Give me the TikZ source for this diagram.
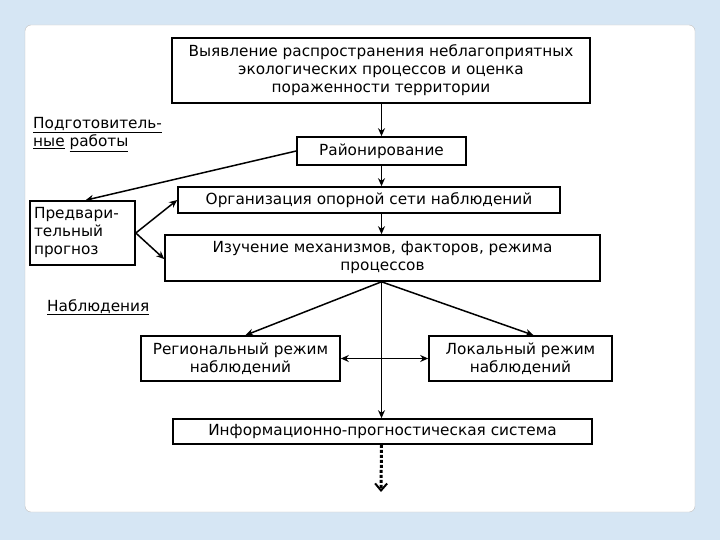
\documentclass[tikz,border=0pt]{standalone}
\usepackage{fontspec}
\setmainfont{DejaVu Sans}
\usetikzlibrary{arrows.meta}
\definecolor{bgblue}{HTML}{D6E6F4}
\begin{document}
\begin{tikzpicture}[x=1pt,y=-1pt,
  box/.style={draw,line width=1.6pt,inner sep=0pt,align=center,font=\fontsize{15.3}{18}\selectfont},
  arr/.style={line width=1.5pt,-{Stealth[length=8pt,width=7pt]}},
  lab/.style={font=\fontsize{15.3}{18}\selectfont,align=left,anchor=north west,inner sep=0pt}]
\fill[bgblue] (0,0) rectangle (720,540);
\useasboundingbox (0,0) rectangle (720,540);
\filldraw[fill=white,draw=black!25,rounded corners=6pt] (25,25) rectangle (695,512);
\node[box,minimum width=418pt,minimum height=65pt] (top) at (381,70.5) {Выявление распространения неблагоприятных\\экологических процессов и оценка\\пораженности территории};
\node[box,minimum width=169pt,minimum height=28pt] (rai) at (381.5,151) {Районирование};
\node[box,minimum width=382pt,minimum height=26pt] (org) at (369,200) {Организация опорной сети наблюдений};
\node[box,minimum width=435pt,minimum height=46pt] (izu) at (382.5,258) {Изучение механизмов, факторов, режима\\процессов};
\node[box,minimum width=105pt,minimum height=64pt,align=left,text width=97pt] (pre) at (82.5,233) {Предвари-\\тельный\\прогноз};
\node[box,minimum width=199pt,minimum height=45pt] (reg) at (240.5,358.5) {Региональный режим\\наблюдений};
\node[box,minimum width=183pt,minimum height=45pt] (lok) at (520.5,358.5) {Локальный режим\\наблюдений};
\node[box,minimum width=419pt,minimum height=25pt] (inf) at (382.5,431.5) {Информационно-прогностическая система};
\node[lab] (podg) at (33,117) {\underline{Подготовитель-}\\\underline{ные} \underline{работы}};
\node[lab] (nab) at (47,299) {\underline{Наблюдения}};
\coordinate (end) at (381,492);
\draw[arr] (top.south -| rai.north) -- (rai.north);
\draw[arr] (rai.south) -- (rai.south |- org.north);
\draw[arr] (rai.south |- org.south) -- (rai.south |- izu.north);
\draw[arr] (rai.west) -- ([xshift=3pt]pre.north);
\draw[arr] (pre.east) -- (org.west);
\draw[arr] (pre.east) -- ([yshift=3pt]izu.south west |- 0,262);
\draw[arr] (rai.south |- izu.south) -- ([xshift=5pt]reg.north);
\draw[arr] (rai.south |- izu.south) -- ([xshift=13pt]lok.north);
\draw[arr] (rai.south |- izu.south) -- (rai.south |- inf.north);
\draw[line width=1.5pt,{Stealth[length=8pt,width=7pt]}-{Stealth[length=8pt,width=7pt]}] (reg.east) -- (lok.west);
\draw[line width=3pt,dash pattern=on 3pt off 2pt,-{Straight Barb[length=7pt,width=12pt,line width=2pt]}] (rai.south |- inf.south) -- (end);
\end{tikzpicture}
\end{document}
